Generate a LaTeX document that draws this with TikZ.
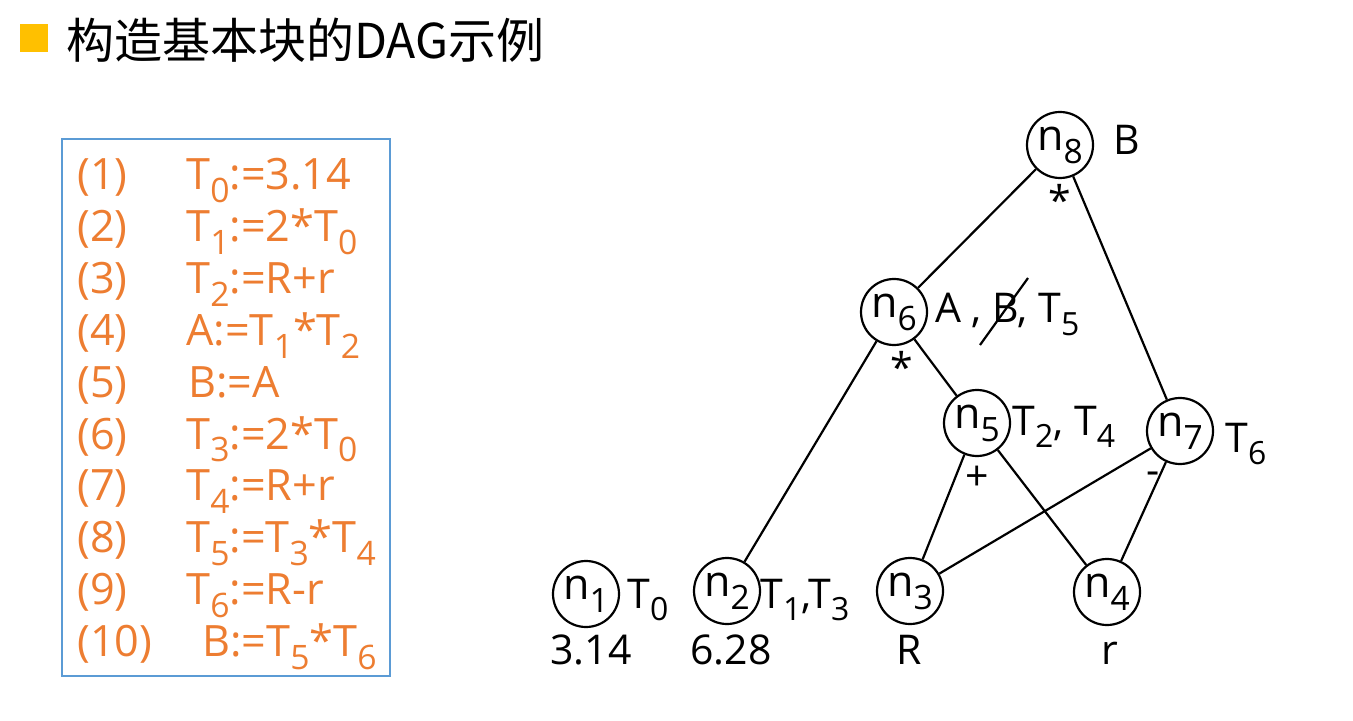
\documentclass[tikz,border=0pt]{standalone}
\usepackage{fontspec}
\setmainfont{Open Sans}
\newfontfamily\cjk{Noto Sans CJK SC}
\usetikzlibrary{positioning}

\definecolor{boxblue}{HTML}{5B9BD5}
\definecolor{stmtorange}{HTML}{ED7D31}
\definecolor{bulletgold}{HTML}{FFC000}

\newcommand{\ts}[1]{\raisebox{-0.3em}{\scalebox{0.78}{#1}}}

\tikzset{
  vtx/.style={circle, draw, line width=1.1pt, minimum size=33pt, inner sep=0pt,
    font=\fontsize{21.5}{24}\selectfont},
  lbl/.style={inner sep=0pt, font=\fontsize{20.5}{24}\selectfont},
  stmt/.style={inner sep=0pt, anchor=base west, text=stmtorange,
    font=\fontsize{21.6}{25}\selectfont},
  edge/.style={line width=1.1pt}
}

\begin{document}
\begin{tikzpicture}[x=0.5pt,y=-0.5pt]
\useasboundingbox (0,0) rectangle (1353,721);

% title
\node[fill=bulletgold, minimum size=14pt, inner sep=0pt] (bullet) at (34,38) {};
\node[anchor=west, inner sep=0pt, font=\fontsize{24}{28}\selectfont] (title) at (66,40)
  {\cjk 构造基本块的DAG示例};

% three-address code
\draw[boxblue, line width=1pt] (62,139) rectangle (390,676);
\foreach \i/\x/\s in {1/186/{T\ts{0}:=3.14}, 2/186/{T\ts{1}:=2*T\ts{0}},
  3/186/{T\ts{2}:=R+r}, 4/186/{A:=T\ts{1}*T\ts{2}}, 5/188/{B:=A},
  6/186/{T\ts{3}:=2*T\ts{0}}, 7/186/{T\ts{4}:=R+r}, 8/186/{T\ts{5}:=T\ts{3}*T\ts{4}},
  9/186/{T\ts{6}:=R-r}, 10/202/{B:=T\ts{5}*T\ts{6}}} {
  \node[stmt] (num\i) at (77, 190+51.8*\i-51.8) {(\i)};
  \node[stmt] (code\i) at (\x, 190+51.8*\i-51.8) {\s};
}

% DAG nodes
\node[vtx] (n1) at (586,594) {n\ts{1}};
\node[vtx] (n2) at (727,591) {n\ts{2}};
\node[vtx] (n3) at (910,591) {n\ts{3}};
\node[vtx] (n4) at (1107,592) {n\ts{4}};
\node[vtx] (n5) at (977,423) {n\ts{5}};
\node[vtx] (n7) at (1180,431) {n\ts{7}};
\node[vtx] (n6) at (894,312) {n\ts{6}};
\node[vtx] (n8) at (1060,145) {n\ts{8}};

\draw[edge] (n8) -- (n6);
\draw[edge] (n8) -- (n7);
\draw[edge] (n6) -- (n2);
\draw[edge] (n6) -- (n5);
\draw[edge] (n5) -- (n3);
\draw[edge] (n5) -- (n4);
\draw[edge] (n7) -- (n3);
\draw[edge] (n7) -- (n4);

% attached identifiers
\node[lbl, anchor=base west] (n8id) at (1113,155) {B};
\node[lbl, anchor=base west] (n6id) at (935,323) {A , B, T\ts{5}};
\node[lbl, anchor=base west] (n5id) at (1012,435) {T\ts{2}, T\ts{4}};
\node[lbl, anchor=base west] (n7id) at (1225,452) {T\ts{6}};
\node[lbl, anchor=base west] (n1id) at (627,608) {T\ts{0}};
\node[lbl, anchor=base west] (n2id) at (760,608) {T\ts{1},T\ts{3}};
\coordinate (strikeA) at (980,345);
\coordinate (strikeB) at (1028,278);
\draw[edge] (strikeA) -- (strikeB);

% operators
\node[lbl] (op8) at (1060,200) {*};
\node[lbl] (op6) at (902,367) {*};
\node[lbl] (op5) at (977,478) {+};
\node[lbl] (op7) at (1153,478) {-};

% leaf values
\node[lbl, anchor=base] (v1) at (591,664) {3.14};
\node[lbl, anchor=base] (v2) at (731,664) {6.28};
\node[lbl, anchor=base] (v3) at (909,664) {R};
\node[lbl, anchor=base] (v4) at (1110,664) {r};
\end{tikzpicture}
\end{document}
